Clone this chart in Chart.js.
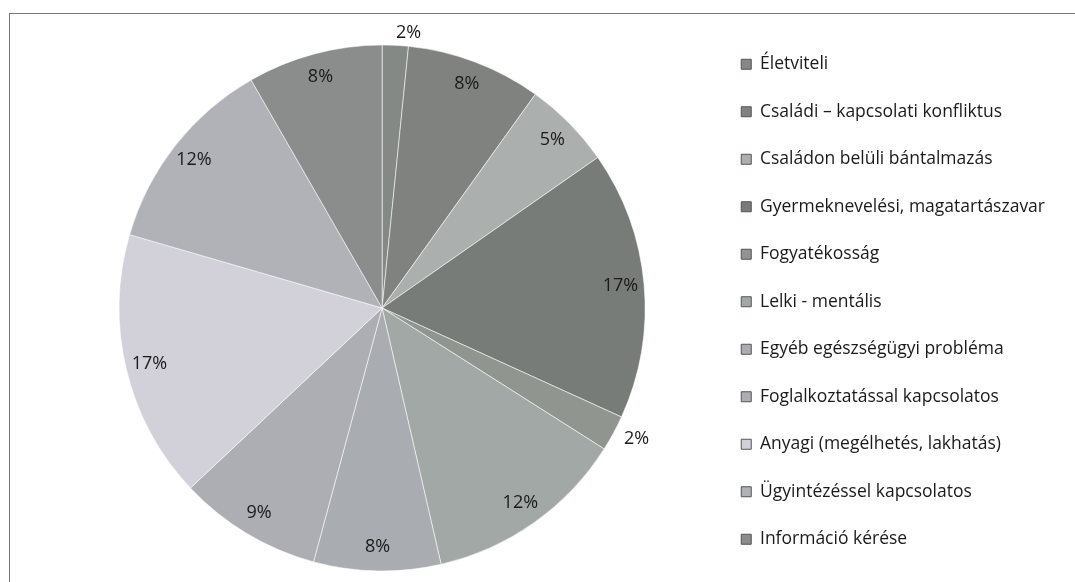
<!DOCTYPE html>
<html>
<head>
<meta charset="utf-8">
<script src="https://cdn.jsdelivr.net/npm/chart.js@4/dist/chart.umd.min.js"></script>
<style>
  html, body { margin: 0; padding: 0; background: #fff; overflow: hidden; }
  #frame { position: absolute; left: 9px; top: 13px; width: 1100px; height: 620px;
           border-left: 1px solid #777; border-top: 1px solid #777; }
  #wrap { position: absolute; left: 0; top: 0; width: 1075px; height: 600px; }
</style>
</head>
<body>
<div id="frame"></div>
<div id="wrap"><canvas id="pie"></canvas></div>
<script>
// problem categories, clockwise from 12 o'clock
const categories = [
  'Életviteli',
  'Családi – kapcsolati konfliktus',
  'Családon belüli bántalmazás',
  'Gyermeknevelési, magatartászavar',
  'Fogyatékosság',
  'Lelki - mentális',
  'Egyéb egészségügyi probléma',
  'Foglalkoztatással kapcsolatos',
  'Anyagi (megélhetés, lakhatás)',
  'Ügyintézéssel kapcsolatos',
  'Információ kérése'
];
// share of cases, %
const shares = [1.6, 8.3, 5.4, 16.5, 2.2, 12.4, 7.8, 8.8, 16.5, 12.2, 8.3];
const sliceColors = [
  '#858985', '#7f827f', '#abb0ae', '#787c79', '#90958f', '#a2a8a6',
  '#a9adb1', '#adaeb4', '#d2d1da', '#b0b2b8', '#8a8d8b'
];

const pctLabels = {
  id: 'pctLabels',
  afterDatasetsDraw(chart) {
    const ctx = chart.ctx;
    const meta = chart.getDatasetMeta(0);
    ctx.save();
    ctx.font = '18px "Open Sans"';
    ctx.fillStyle = '#1a1a1a';
    ctx.textBaseline = 'middle';
    meta.data.forEach((arc, i) => {
      const p = arc.getProps(['x', 'y', 'startAngle', 'endAngle', 'outerRadius'], true);
      const mid = (p.startAngle + p.endAngle) / 2;
      const txt = Math.round(shares[i]) + '%';
      if (shares[i] < 3) {
        // thin slices get their label just outside the rim
        const r = p.outerRadius + 12;
        ctx.textAlign = Math.cos(mid) >= 0 ? 'left' : 'right';
        ctx.fillText(txt, p.x + Math.cos(mid) * r, p.y + Math.sin(mid) * r);
      } else {
        const r = p.outerRadius * 0.91;
        ctx.textAlign = 'center';
        ctx.fillText(txt, p.x + Math.cos(mid) * r, p.y + Math.sin(mid) * r);
      }
    });
    ctx.restore();
  }
};

new Chart(document.getElementById('pie'), {
  type: 'pie',
  plugins: [pctLabels],
  data: {
    labels: categories,
    datasets: [{
      data: shares,
      backgroundColor: sliceColors,
      borderColor: 'rgba(255,255,255,0.55)',
      borderWidth: 1
    }]
  },
  options: {
    responsive: true,
    maintainAspectRatio: false,
    animation: false,
    radius: 263,
    layout: { padding: { top: 25.5, bottom: 9.5, left: 53, right: 20 } },
    plugins: {
      tooltip: { enabled: false },
      legend: {
        position: 'right',
        align: 'start',
        labels: {
          boxWidth: 10,
          boxHeight: 10,
          padding: 30,
          color: '#1a1a1a',
          font: { family: 'Open Sans', size: 17.5 },
          generateLabels(chart) {
            const items = Chart.overrides.pie.plugins.legend.labels.generateLabels(chart);
            return items.map(it => Object.assign(it, { strokeStyle: '#555', lineWidth: 1 }));
          }
        }
      }
    }
  }
});
</script>
</body>
</html>
